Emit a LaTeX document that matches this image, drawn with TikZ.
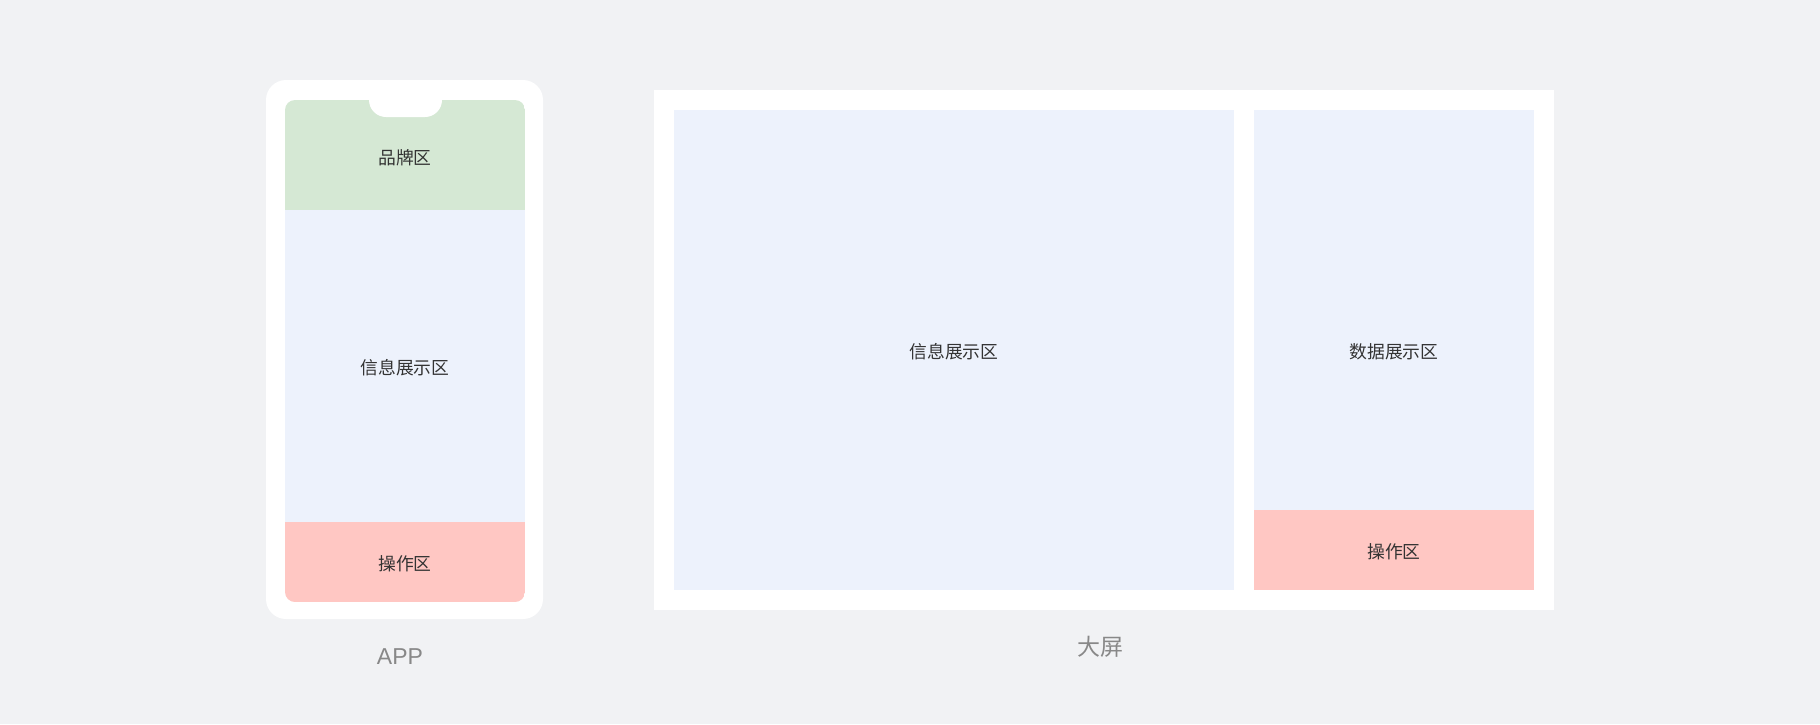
\documentclass[tikz,border=0pt]{standalone}
\usepackage{fontspec}
\setmainfont{Liberation Sans}
\newfontfamily\cjk{Noto Sans CJK SC}
\definecolor{bgc}{HTML}{F1F2F4}
\definecolor{brandc}{HTML}{D5E8D4}
\definecolor{infoc}{HTML}{EDF2FC}
\definecolor{opc}{HTML}{FFC7C3}
\definecolor{txtc}{HTML}{333333}
\definecolor{capc}{HTML}{888888}
\tikzset{
  zone/.style={font=\cjk\fontsize{17.8}{20}\selectfont, text=txtc, inner sep=0pt},
  caplabel/.style={font=\fontsize{23}{26}\selectfont, text=capc, inner sep=0pt},
  caplabelcjk/.style={font=\cjk\fontsize{23}{26}\selectfont, text=capc, inner sep=0pt}
}
\begin{document}
\begin{tikzpicture}[x=1pt,y=-1pt]
\fill[bgc] (0,0) rectangle (1820,724);
\useasboundingbox (0,0) rectangle (1820,724);
% phone
\fill[white, rounded corners=20] (266,80) rectangle (543,619);
\begin{scope}
  \clip[rounded corners=10] (285,100) rectangle (525,602);
  \fill[brandc] (285,100) rectangle (525,210);
  \fill[infoc] (285,210) rectangle (525,522);
  \fill[opc] (285,522) rectangle (525,602);
\end{scope}
\fill[white, rounded corners=17] (369,83) rectangle (442,117);
\node[zone] (brand) at (405,157.5) {品牌区};
\node[zone] (appinfo) at (405,367.5) {信息展示区};
\node[zone] (appop) at (405,563.5) {操作区};
\node[caplabel] (app) at (400,657) {APP};
% big screen
\fill[white] (654,90) rectangle (1554,610);
\fill[infoc] (674,110) rectangle (1234,590);
\fill[infoc] (1254,110) rectangle (1534,510);
\fill[opc] (1254,510) rectangle (1534,590);
\node[zone] (scrinfo) at (954,351.5) {信息展示区};
\node[zone] (scrdata) at (1394,351.5) {数据展示区};
\node[zone] (scrop) at (1394,551.5) {操作区};
\node[caplabelcjk] (scr) at (1100,647) {大屏};
\end{tikzpicture}
\end{document}
